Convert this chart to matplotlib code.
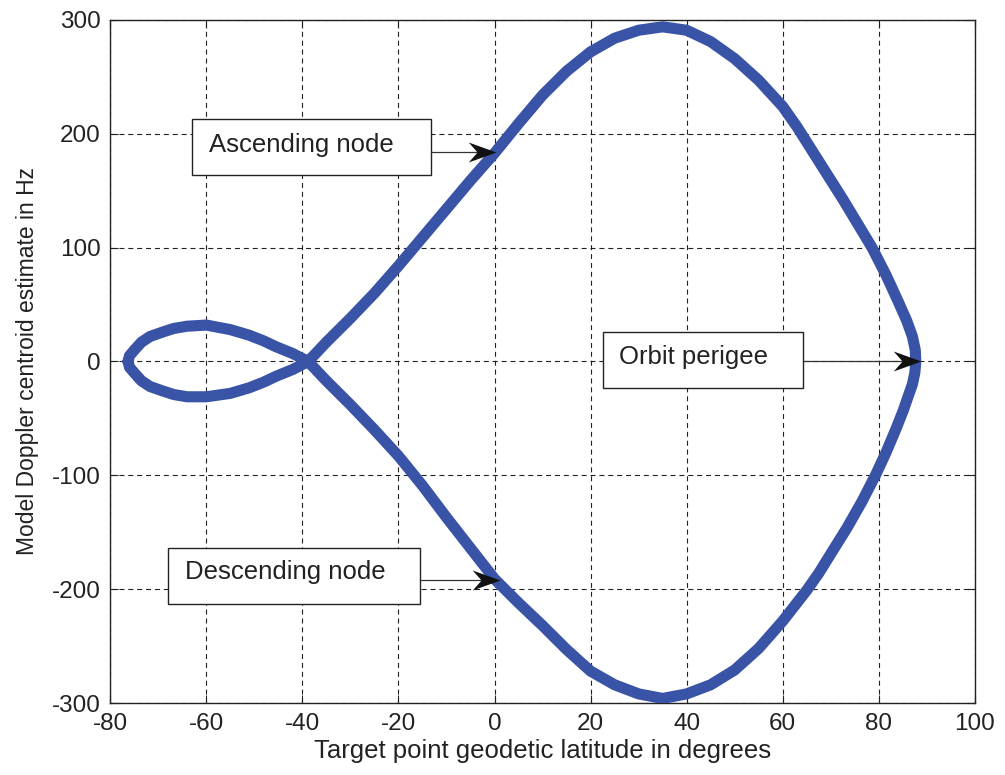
import matplotlib
matplotlib.use("Agg")
import matplotlib.pyplot as plt
from matplotlib.patches import Rectangle
from matplotlib.path import Path

plt.rcParams['font.family'] = ['Liberation Sans', 'DejaVu Sans']
plt.rcParams['axes.unicode_minus'] = False  # hifen normal como no original

# pontos, percorrendo a curva fechada:
# laco pequeno (parte de cima) -> ramo descendente -> perigeu -> ramo ascendente -> laco pequeno (parte de baixo)
lat = [-76.3, -76.0, -75.0, -73.5, -71.7, -69.0, -66.8, -64.0, -60.0, -55.0, -51.0, -48.0, -45.5, -42.0,
       -38.8, -35.0, -30.0, -25.0, -20.0, -15.0, -10.0, -5.0, 0.0, 5.0, 10.0, 15.0, 20.0,
       25.0, 30.0, 35.0, 40.0, 45.0, 50.0, 55.0, 60.0, 65.0, 67.5, 70.0, 73.4, 76.5, 79.3, 81.5,
       83.5, 85.1, 86.0, 87.0, 87.5, 87.7,
       87.6, 87.0, 85.8, 83.9, 81.5, 78.6, 75.6, 72.6, 69.0, 66.0, 63.0, 60.0, 55.0, 50.0, 45.0,
       40.0, 35.0, 30.0, 25.0, 20.0, 15.0, 10.0, 5.0, 0.0, -5.0, -10.0, -15.0, -20.0, -25.0, -30.0,
       -35.0, -38.8,
       -42.0, -45.5, -48.0, -51.0, -55.0, -60.0, -64.0, -66.8, -69.0, -71.7, -73.5, -75.0, -76.0, -76.3]
doppler = [0, 5, 10, 17, 22, 26, 29, 31, 32, 28, 23, 18, 13, 7,
           0, -17, -38, -60, -83, -109, -137, -164, -191, -212, -232, -253, -272,
           -284, -292, -296, -292, -284, -271, -252, -228, -201, -186, -169, -146, -123, -100, -80,
           -60, -43, -32, -20, -10, 0,
           10, 22, 36, 54, 76, 100, 121, 142, 166, 186, 206, 224, 247, 266, 281,
           291, 294, 291, 284, 272, 255, 234, 209, 183, 159, 134, 109, 84, 60, 38,
           17, 0,
           -7, -13, -18, -23, -28, -31, -31, -29, -26, -22, -17, -10, -5, 0]

xticks = [-80, -60, -40, -20, 0, 20, 40, 60, 80, 100]
yticks = [-300, -200, -100, 0, 100, 200, 300]

# anotacoes: texto, caixa (x0, y0, x1, y1), posicao do texto, ponta da seta
notes = [
    ("Ascending node", (-62.9, 163.7, -13.25, 212.7), (-59.4, 190), (0.3, 184)),
    ("Orbit perigee", (22.5, -22.9, 64.2, 25.9), (26.0, 4), (88.7, 0)),
    ("Descending node", (-67.9, -212.8, -15.5, -164.0), (-64.5, -185), (1.1, -191.7)),
]

# cabeca de seta estilo matlab (ponta em (0,0), apontando para a direita)
head = Path([(0, 0), (-1, 0.36), (-0.68, 0), (-1, -0.36), (0, 0)],
            [Path.MOVETO, Path.LINETO, Path.LINETO, Path.LINETO, Path.CLOSEPOLY])

fig = plt.figure(figsize=(10.05, 7.75), dpi=100)
ax = fig.add_axes([0.1097, 0.0929, 0.8603, 0.8813])

ax.plot(lat, doppler, color='#3953a6', lw=8, solid_joinstyle='round', solid_capstyle='round', zorder=3)

ax.set_xlim(-80, 100)
ax.set_ylim(-300, 300)
ax.set_xticks(xticks)
ax.set_yticks(yticks)
ax.grid(True, color='#222222', linestyle=(0, (4.5, 3.5)), linewidth=0.8)
ax.tick_params(direction='in', top=True, right=True, length=6, labelsize=17.5, colors='#222222')
ax.tick_params(axis='x', pad=7)
ax.tick_params(axis='y', pad=7)
for s in ax.spines.values():
    s.set_linewidth(1.0)
    s.set_color('#222222')

ax.set_xlabel("Target point geodetic latitude in degrees", fontsize=18.5, labelpad=3, color='#222222')
ax.set_ylabel("Model Doppler centroid estimate in Hz", fontsize=16.5, labelpad=9, color='#222222')

for text, (x0, y0, x1, y1), (tx, ty), (hx, hy) in notes:
    ax.add_patch(Rectangle((x0, y0), x1 - x0, y1 - y0, facecolor='white',
                           edgecolor='#222222', lw=1.0, zorder=4))
    ax.text(tx, ty, text, fontsize=18.5, va='center', ha='left', color='#222222', zorder=5)
    ax.plot([x1, hx - 3], [hy, hy], color='#333333', lw=0.9, zorder=6)
    ax.plot([hx], [hy], marker=head, markersize=40, color='#111111', mew=0, zorder=7)

fig.savefig("out.png", dpi=100)
